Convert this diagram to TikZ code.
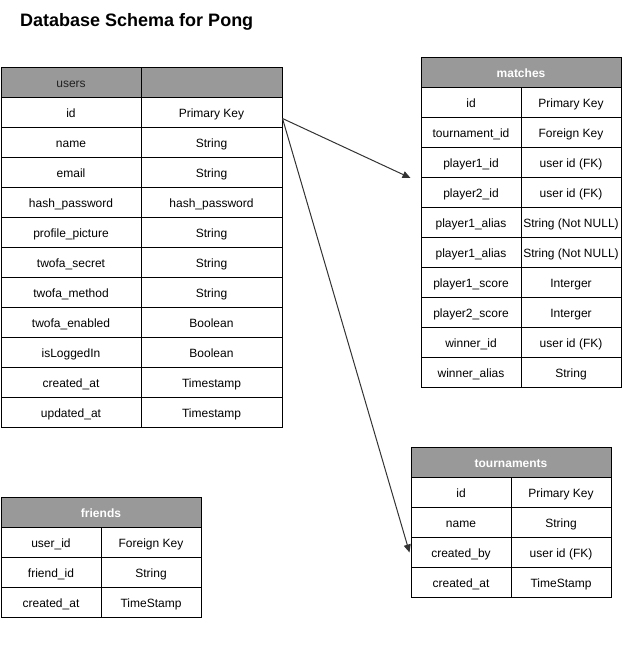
\documentclass[tikz,border=0pt]{standalone}
\usepackage{fontspec}
\setmainfont{Liberation Sans}
\usetikzlibrary{arrows.meta}
\definecolor{hdr}{HTML}{999999}
\definecolor{hdrtext}{HTML}{222222}
\definecolor{arrowc}{HTML}{333333}
\tikzset{
  cell/.style={draw=black, line width=1pt, anchor=north west, minimum height=30pt,
    inner sep=0pt, text height=10.5pt, text depth=0pt,
    font=\fontsize{12}{14}\selectfont, text=black},
  hcell/.style={cell, fill=hdr, text=white, font=\fontsize{12}{14}\selectfont\bfseries},
  ucell/.style={cell, fill=hdr, text=hdrtext},
  rel/.style={draw=arrowc, line width=1pt, -{Triangle[length=8pt,width=7pt]}},
  titletext/.style={anchor=base west, inner sep=0pt, font=\fontsize{18}{21}\selectfont\bfseries, text=black}
}
\begin{document}
\begin{tikzpicture}[x=1pt,y=-1pt]
\useasboundingbox (0,0) rectangle (621,666);
\node[titletext] (title) at (20,27) {Database Schema for Pong};

% users
\node[ucell, minimum width=140pt] (users-0-1) at (0.5,67) {users};
\node[ucell, minimum width=141pt] (users-0-2) at (140.5,67) {};
\foreach \a/\b [count=\i] in {id/Primary Key, name/String, email/String,
  hash\_password/hash\_password, profile\_picture/String, twofa\_secret/String,
  twofa\_method/String, twofa\_enabled/Boolean, isLoggedIn/Boolean,
  created\_at/Timestamp, updated\_at/Timestamp}{
  \node[cell, minimum width=140pt] (users-\i-1) at (0.5,{67+30*\i}) {\a};
  \node[cell, minimum width=141pt] (users-\i-2) at (140.5,{67+30*\i}) {\b};
}

% matches
\node[hcell, minimum width=200pt] (matches-0) at (420.5,57) {matches};
\foreach \a/\b [count=\i] in {id/Primary Key, tournament\_id/Foreign Key,
  player1\_id/user id (FK), player2\_id/user id (FK),
  player1\_alias/String (Not NULL), player1\_alias/String (Not NULL),
  player1\_score/Interger, player2\_score/Interger,
  winner\_id/user id (FK), winner\_alias/String}{
  \node[cell, minimum width=100pt] (matches-\i-1) at (420.5,{57+30*\i}) {\a};
  \node[cell, minimum width=100pt] (matches-\i-2) at (520.5,{57+30*\i}) {\b};
}

% tournaments
\node[hcell, minimum width=200pt] (tournaments-0) at (410.5,447) {tournaments};
\foreach \a/\b [count=\i] in {id/Primary Key, name/String,
  created\_by/user id (FK), created\_at/TimeStamp}{
  \node[cell, minimum width=100pt] (tournaments-\i-1) at (410.5,{447+30*\i}) {\a};
  \node[cell, minimum width=100pt] (tournaments-\i-2) at (510.5,{447+30*\i}) {\b};
}

% friends
\node[hcell, minimum width=200pt] (friends-0) at (0.5,497) {friends};
\foreach \a/\b [count=\i] in {user\_id/Foreign Key, friend\_id/String,
  created\_at/TimeStamp}{
  \node[cell, minimum width=100pt] (friends-\i-1) at (0.5,{497+30*\i}) {\a};
  \node[cell, minimum width=100pt] (friends-\i-2) at (100.5,{497+30*\i}) {\b};
}

% relations
\coordinate (src) at ([yshift=-6pt]users-1-2.east);
\coordinate (dst1) at ([xshift=-10pt]matches-3-1.south west);
\coordinate (dst2) at ([xshift=-1pt]tournaments-3-1.west);
\draw[rel] (src) -- (dst1);
\draw[rel] (src) -- (dst2);
\end{tikzpicture}
\end{document}
